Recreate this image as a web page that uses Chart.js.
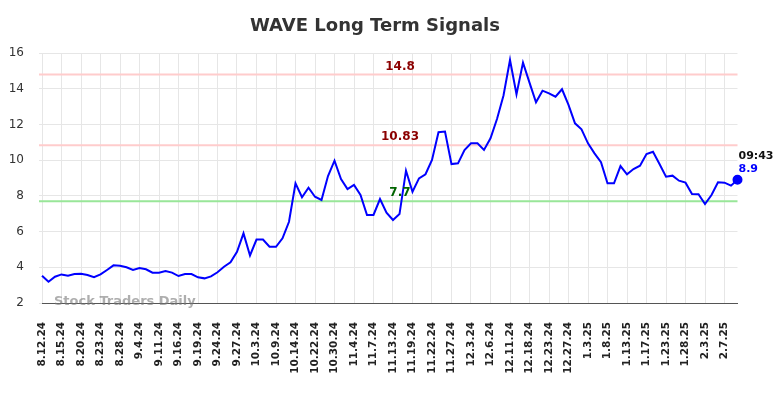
<!DOCTYPE html>
<html>
<head>
<meta charset="utf-8">
<script src="https://cdn.jsdelivr.net/npm/chart.js@4.4.1/dist/chart.umd.min.js"></script>
<style>
  html, body { margin: 0; padding: 0; background: #fff; }
  #wrap { width: 784px; height: 398px; }
</style>
</head>
<body>
<div id="wrap"><canvas id="myChart" width="784" height="398"></canvas></div>
<script>
var dates = [
  "8.12.24", "8.13.24", "8.14.24", "8.15.24", "8.16.24", "8.19.24",
  "8.20.24", "8.21.24", "8.22.24", "8.23.24", "8.26.24", "8.27.24",
  "8.28.24", "8.29.24", "8.30.24", "9.4.24", "9.6.24", "9.9.24",
  "9.11.24", "9.12.24", "9.13.24", "9.16.24", "9.17.24", "9.18.24",
  "9.19.24", "9.20.24", "9.23.24", "9.24.24", "9.25.24", "9.26.24",
  "9.27.24", "9.30.24", "10.1.24", "10.3.24", "10.4.24", "10.7.24",
  "10.9.24", "10.10.24", "10.11.24", "10.14.24", "10.16.24", "10.18.24",
  "10.22.24", "10.24.24", "10.28.24", "10.30.24", "10.31.24", "11.1.24",
  "11.4.24", "11.5.24", "11.6.24", "11.7.24", "11.8.24", "11.11.24",
  "11.13.24", "11.14.24", "11.18.24", "11.19.24", "11.20.24", "11.21.24",
  "11.22.24", "11.25.24", "11.26.24", "11.27.24", "11.29.24", "12.2.24",
  "12.3.24", "12.4.24", "12.5.24", "12.6.24", "12.9.24", "12.10.24",
  "12.11.24", "12.13.24", "12.16.24", "12.18.24", "12.19.24", "12.20.24",
  "12.23.24", "12.24.24", "12.26.24", "12.27.24", "12.30.24", "12.31.24",
  "1.3.25", "1.6.25", "1.7.25", "1.8.25", "1.9.25", "1.10.25",
  "1.13.25", "1.14.25", "1.15.25", "1.17.25", "1.21.25", "1.22.25",
  "1.23.25", "1.24.25", "1.27.25", "1.28.25", "1.29.25", "1.31.25",
  "2.3.25", "2.4.25", "2.6.25", "2.7.25", "2.10.25", "2.11.25"
];

var prices = [
  3.53, 3.19, 3.47, 3.60, 3.53, 3.62, 3.64, 3.57, 3.44, 3.60,
  3.85, 4.11, 4.09, 4.00, 3.85, 3.96, 3.89, 3.70, 3.70, 3.79,
  3.70, 3.51, 3.62, 3.62, 3.44, 3.38, 3.49, 3.72, 4.03, 4.28,
  4.87, 5.90, 4.66, 5.55, 5.55, 5.15, 5.15, 5.62, 6.55, 8.70,
  7.92, 8.46, 7.95, 7.77, 9.11, 9.97, 8.94, 8.38, 8.61, 8.05,
  6.93, 6.93, 7.82, 7.06, 6.65, 6.98, 9.41, 8.23, 8.98, 9.21,
  10.01, 11.56, 11.60, 9.78, 9.82, 10.57, 10.94, 10.94, 10.57, 11.22,
  12.30, 13.62, 15.61, 13.69, 15.46, 14.34, 13.24, 13.89, 13.74, 13.55,
  13.97, 13.09, 12.06, 11.73, 10.94, 10.38, 9.88, 8.70, 8.70, 9.67,
  9.21, 9.50, 9.69, 10.34, 10.47, 9.78, 9.07, 9.13, 8.85, 8.74,
  8.10, 8.09, 7.54, 8.05, 8.76, 8.74, 8.57, 8.90
];

// signal levels
var levelValues = [14.8, 10.83, 7.7];
var levelLines = ['#ffcccc', '#ffcccc', '#99e699'];
var levelText = ['#8b0000', '#8b0000', '#006400'];

var yTicks = [2, 4, 6, 8, 10, 12, 14, 16];
var lastTime = "09:43";
var FONT = "'DejaVu Sans', sans-serif";

// draws title, level lines, watermark and the last price label
var extras = {
  id: 'extras',
  beforeDatasetsDraw: function(chart) {
    var ctx = chart.ctx;
    var area = chart.chartArea;
    var y = chart.scales.y;
    ctx.save();
    for (var i = 0; i < levelValues.length; i++) {
      var py = y.getPixelForValue(levelValues[i]);
      ctx.strokeStyle = levelLines[i];
      ctx.lineWidth = 2;
      ctx.beginPath();
      ctx.moveTo(area.left - 3, py);
      ctx.lineTo(area.right, py);
      ctx.stroke();
    }
    ctx.restore();
  },
  afterDraw: function(chart) {
    var ctx = chart.ctx;
    var x = chart.scales.x;
    var y = chart.scales.y;
    ctx.save();

    ctx.fillStyle = '#333';
    ctx.font = 'bold 18px ' + FONT;
    ctx.textAlign = 'center';
    ctx.textBaseline = 'middle';
    ctx.fillText('WAVE Long Term Signals', 375, 26);

    ctx.font = 'bold 12px ' + FONT;
    for (var i = 0; i < levelValues.length; i++) {
      var py = y.getPixelForValue(levelValues[i]);
      ctx.fillStyle = levelText[i];
      ctx.fillText(String(levelValues[i]), 400, py - 8);
    }

    ctx.font = 'bold 13px ' + FONT;
    ctx.fillStyle = 'rgba(120,120,120,0.6)';
    ctx.textAlign = 'left';
    ctx.fillText('Stock Traders Daily', 54, y.getPixelForValue(2) - 1);

    var last = prices.length - 1;
    var lx = x.getPixelForValue(last);
    var ly = y.getPixelForValue(prices[last]);
    ctx.font = 'bold 11px ' + FONT;
    ctx.fillStyle = '#111';
    ctx.fillText(lastTime, lx + 1, ly - 24);
    ctx.fillStyle = '#0000ff';
    ctx.fillText(String(prices[last]), lx + 1, ly - 11);
    ctx.restore();
  }
};

var radii = prices.map(function(v, i) { return i === prices.length - 1 ? 4 : 0; });

var ctx = document.getElementById('myChart').getContext('2d');
var chart = new Chart(ctx, {
  type: 'line',
  data: {
    labels: dates,
    datasets: [{
      data: prices,
      borderColor: '#0000ff',
      backgroundColor: '#0000ff',
      borderWidth: 2,
      pointRadius: radii,
      pointHoverRadius: radii,
      tension: 0
    }]
  },
  options: {
    responsive: false,
    animation: false,
    events: [],
    layout: { padding: { top: 53, right: 46.5, bottom: 0, left: 0 } },
    plugins: {
      legend: { display: false },
      title: { display: false },
      tooltip: { enabled: false }
    },
    scales: {
      x: {
        offset: false,
        grid: { color: '#e6e6e6', lineWidth: 1, drawTicks: false },
        border: { color: '#555', width: 1 },
        ticks: {
          autoSkip: false,
          maxRotation: 90,
          minRotation: 90,
          padding: 19,
          color: '#222',
          font: { family: FONT, size: 10.5, weight: 'bold' },
          callback: function(val, idx) {
            return idx % 3 === 0 ? dates[idx] : null;
          }
        },
        afterFit: function(axis) { axis.height = 95; }
      },
      y: {
        min: 2,
        max: 16,
        afterBuildTicks: function(axis) {
          axis.ticks = yTicks.map(function(v) { return { value: v }; });
        },
        grid: { color: '#e6e6e6', lineWidth: 1, tickLength: 3 },
        border: { display: false },
        ticks: {
          padding: 15,
          color: '#333',
          font: { family: FONT, size: 12 }
        },
        afterFit: function(axis) { axis.width = 42; }
      }
    }
  },
  plugins: [extras]
});
</script>
</body>
</html>
